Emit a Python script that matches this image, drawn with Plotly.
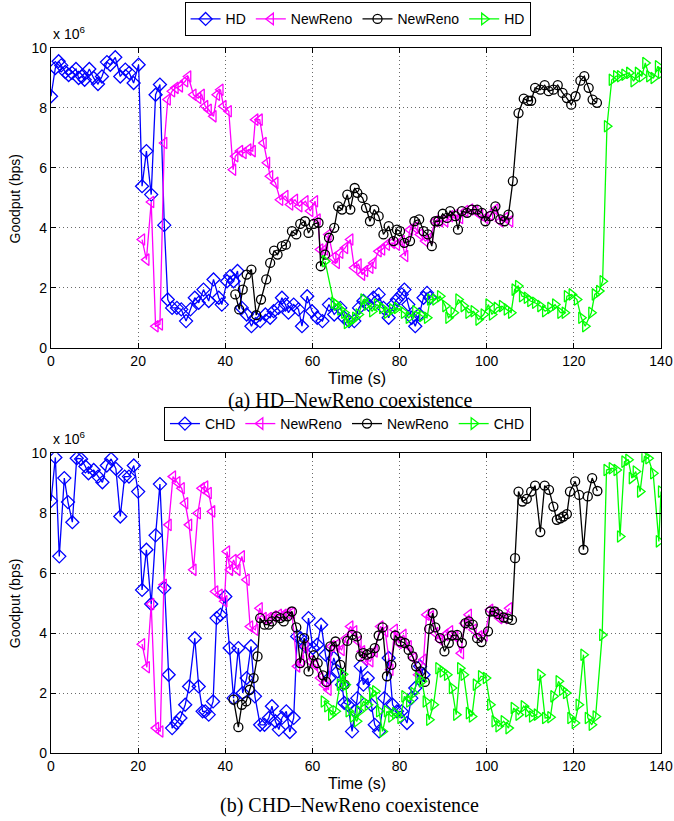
import plotly.graph_objects as go

# ---------------- (a) HD - NewReno ----------------
T_HD_A = [0.0, 0.99, 1.75, 2.36, 3.28, 4.05, 4.81, 5.73, 6.34, 7.11,
          7.72, 8.79, 9.78, 10.78, 11.7, 12.84, 13.61, 14.75, 15.9, 17.05,
          17.97, 18.96, 20.11, 20.9, 21.9, 23.0, 24.0, 25.0, 26.0, 26.8,
          27.8, 28.9, 29.9, 31.0, 32.0, 33.0, 33.9, 35.0, 36.2, 37.3,
          38.5, 39.2, 40.4, 41.1, 41.9, 42.8, 43.8, 44.9, 46.0, 46.9,
          48.0, 49.2, 50.3, 51.1, 52.2, 53.0, 53.8, 54.5, 55.7, 56.8,
          57.6, 58.8, 59.9, 61.1, 62.3, 63.8, 65.0, 66.4, 67.3, 68.4,
          69.6, 70.7, 71.7, 72.9, 74.0, 75.2, 76.3, 77.5, 78.6, 79.4,
          80.5, 81.1, 82.0, 82.8, 83.6, 84.5, 85.5, 86.3, 87.0]
V_HD_A = [8.39, 9.33, 9.56, 9.42, 9.2, 9.1, 9.17, 9.3, 9.0, 9.05,
          8.94, 9.3, 9.0, 8.8, 9.05, 9.53, 9.44, 9.69, 9.05, 9.28,
          9.17, 8.83, 9.44, 5.39, 6.56, 5.11, 8.44, 8.78, 4.09, 1.61,
          1.33, 1.33, 1.28, 0.89, 1.28, 1.67, 1.5, 1.94, 1.56, 2.28,
          1.67, 1.44, 2.22, 2.39, 2.22, 2.56, 1.33, 1.11, 0.72, 1.0,
          0.89, 1.11, 1.0, 1.22, 1.33, 1.67, 1.44, 1.17, 1.44, 1.28,
          0.72, 1.72, 1.22, 1.0, 0.89, 1.44, 1.11, 1.33, 1.0, 0.89,
          0.89, 1.33, 1.56, 1.44, 1.67, 1.78, 1.33, 1.0, 1.44, 1.61,
          1.78, 1.94, 1.44, 1.0, 0.72, 1.11, 1.67, 1.83, 1.67]

T_NR1_A = [20.9, 21.9, 23.0, 24.0, 25.0, 26.0, 26.8, 27.8, 28.6, 29.6,
           30.8, 31.5, 32.7, 33.8, 34.6, 35.4, 36.2, 37.3, 38.1, 38.9,
           39.6, 40.8, 41.8, 42.3, 43.4, 44.2, 45.3, 46.3, 46.9, 47.9,
           48.8, 49.6, 50.3, 51.5, 52.6, 53.8, 54.9, 56.0, 57.0, 58.4,
           59.5, 60.6, 61.2, 61.8, 62.9, 63.7, 64.8, 65.6, 66.4, 67.5,
           68.7, 69.6, 70.6, 71.4, 72.1, 73.3, 74.0, 75.2, 76.0, 77.1,
           78.3, 79.4, 80.5, 81.3, 82.4, 83.6, 84.7, 85.9, 87.0, 88.2,
           89.3, 90.5, 91.6, 92.8, 93.9, 95.1, 96.2, 97.4, 98.5, 99.7,
           100.8, 102.0, 103.1, 104.3, 105.4]
V_NR1_A = [3.61, 2.94, 4.86, 0.72, 0.78, 6.83, 8.28, 8.56, 8.67, 8.72,
           8.89, 9.05, 8.44, 8.33, 8.44, 8.06, 7.94, 7.72, 8.44, 8.61,
           8.06, 7.89, 5.94, 6.39, 6.56, 6.5, 6.61, 6.56, 7.61, 7.61,
           6.83, 6.17, 5.72, 5.5, 4.94, 5.06, 4.78, 4.94, 4.72, 4.89,
           4.56, 4.89, 4.28, 3.28, 3.28, 3.78, 3.0, 2.83, 3.17, 3.33,
           3.61, 2.67, 2.78, 2.44, 2.56, 2.67, 2.83, 3.22, 3.28, 3.44,
           3.5, 3.44, 3.56, 3.06, 3.94, 4.0, 3.78, 3.56, 3.67, 4.22,
           4.22, 4.22, 4.39, 4.44, 4.33, 4.56, 4.61, 4.56, 4.44, 4.33,
           4.44, 4.61, 4.22, 4.33, 4.22]

T_NR2_A = [42.3, 43.2, 44.0, 44.9, 46.0, 47.1, 48.2, 49.4, 50.3, 51.2,
           52.0, 53.0, 53.9, 55.3, 56.3, 57.2, 58.3, 59.1, 60.3, 61.4,
           61.9, 62.9, 63.8, 65.0, 65.9, 66.8, 68.0, 68.7, 69.7, 70.3,
           71.5, 72.3, 73.2, 74.2, 75.2, 76.3, 77.5, 78.6, 79.4, 80.1,
           81.1, 82.4, 83.4, 84.5, 85.5, 86.5, 87.4, 88.2, 88.9, 89.9,
           90.9, 91.6, 92.8, 93.4, 94.3, 95.5, 96.6, 97.8, 98.9, 99.7,
           100.8, 102.0, 103.1, 104.1, 105.0, 106.0, 107.3, 108.5, 109.5, 110.2,
           111.1, 112.3, 113.3, 114.2, 115.3, 116.3, 117.4, 118.4, 119.4, 120.4,
           121.5, 122.4, 123.4, 124.3, 125.3]
V_NR2_A = [1.78, 1.28, 1.94, 2.44, 2.61, 1.09, 1.61, 2.28, 2.83, 3.24,
           3.11, 3.39, 3.44, 3.89, 3.78, 4.13, 4.22, 3.83, 4.13, 4.17,
           2.72, 3.11, 3.67, 4.0, 4.72, 4.61, 5.11, 4.61, 5.33, 5.17,
           5.0, 4.67, 4.22, 4.61, 4.39, 3.78, 4.06, 3.56, 3.94, 3.89,
           3.5, 3.56, 4.22, 4.28, 3.89, 3.78, 3.39, 4.22, 4.22, 4.47,
           4.33, 4.56, 4.39, 3.94, 4.56, 4.5, 4.61, 4.61, 4.5, 4.22,
           4.39, 4.72, 4.28, 4.22, 4.44, 5.56, 7.83, 8.31, 8.24, 8.24,
           8.67, 8.61, 8.76, 8.56, 8.61, 8.76, 8.5, 8.33, 8.11, 8.39,
           8.91, 9.06, 8.67, 8.28, 8.17]

T_HD2_A = [62.9, 64.9, 65.5, 66.4, 67.3, 67.9, 68.8, 69.8, 70.6, 71.7,
           72.5, 73.7, 74.8, 76.0, 77.1, 78.3, 79.4, 81.0, 82.1, 83.6,
           85.2, 86.3, 87.0, 88.2, 89.3, 90.5, 91.2, 92.4, 93.5, 94.7,
           95.8, 97.0, 98.1, 99.3, 100.4, 101.2, 102.3, 103.5, 104.6, 105.6,
           106.4, 107.2, 108.1, 109.2, 110.0, 111.1, 112.3, 113.4, 114.6, 115.7,
           116.9, 117.9, 118.4, 119.5, 120.7, 121.7, 122.6, 124.0, 124.8, 125.8,
           126.6, 127.6, 128.7, 129.7, 130.6, 131.6, 132.7, 133.7, 134.7, 135.6,
           136.4, 137.3, 138.3, 139.3, 140.0]
V_HD2_A = [2.89, 1.5, 1.44, 1.28, 1.17, 0.83, 0.89, 1.0, 1.11, 1.61,
           1.44, 1.22, 1.44, 1.33, 1.17, 1.28, 1.33, 1.17, 1.0, 1.22,
           1.06, 1.0, 1.61, 1.61, 1.72, 1.39, 1.0, 1.17, 1.61, 1.39,
           1.17, 1.22, 0.94, 1.11, 1.44, 1.11, 1.33, 1.39, 1.28, 1.17,
           1.94, 2.06, 1.72, 1.67, 1.56, 1.5, 1.39, 1.22, 1.33, 1.44,
           1.17, 1.17, 1.72, 1.78, 1.61, 1.0, 0.72, 1.17, 1.78, 1.89,
           2.22, 7.39, 8.94, 9.06, 9.06, 9.11, 9.17, 8.89, 9.17, 9.06,
           9.5, 9.06, 9.0, 9.39, 9.17]

# ---------------- (b) CHD - NewReno ----------------
T_CHD_B = [0.0, 1.0, 1.9, 3.05, 3.9, 4.9, 5.9, 6.9, 7.9, 8.6,
           9.8, 10.8, 11.8, 12.8, 13.8, 14.9, 15.9, 16.9, 17.9, 19.0,
           20.0, 20.9, 21.9, 23.0, 24.0, 25.0, 26.0, 27.0, 27.8, 28.8,
           29.7, 30.8, 31.7, 33.0, 33.9, 34.8, 35.4, 36.2, 37.2, 38.0,
           38.9, 40.0, 41.0, 41.9, 43.0, 44.0, 44.9, 45.9, 46.8, 48.0,
           49.0, 50.0, 50.7, 51.5, 52.3, 53.0, 54.0, 54.8, 55.7, 56.5,
           57.3, 58.4, 59.1, 60.1, 61.1, 62.0, 63.0, 63.9, 64.9, 65.8,
           66.8, 67.3, 68.1, 69.1, 69.8, 70.3, 71.1, 71.7, 72.7, 73.5,
           74.3, 75.3, 76.5, 77.5, 78.4, 79.4, 80.5, 81.7, 82.7, 83.6,
           84.7, 85.5]
V_CHD_B = [8.41, 9.86, 6.56, 9.17, 8.37, 7.7, 9.83, 9.81, 9.56, 9.33,
           9.44, 9.22, 9.03, 9.59, 9.81, 9.48, 7.89, 9.22, 9.22, 9.59,
           8.72, 5.44, 6.78, 4.97, 7.26, 8.97, 5.5, 2.61, 0.83, 1.0,
           1.17, 1.61, 2.22, 3.83, 2.22, 1.39, 1.39, 1.28, 1.72, 4.5,
           4.61, 5.22, 3.5, 1.83, 3.5, 2.0, 2.5, 3.56, 1.89, 0.94,
           0.94, 1.17, 1.56, 1.06, 0.78, 1.17, 1.39, 0.7, 1.17, 3.89,
           3.83, 3.56, 4.5, 3.5, 3.61, 4.28, 3.28, 2.5, 3.17, 2.72,
           2.28, 1.67, 1.61, 0.72, 1.39, 1.83, 2.89, 2.28, 2.5, 1.61,
           0.94, 0.72, 1.83, 3.17, 1.61, 1.39, 1.39, 1.0, 1.83, 2.17,
           2.89, 2.61]

T_NR1_B = [20.9, 22.0, 23.0, 24.1, 25.1, 25.9, 27.0, 28.0, 29.0, 30.0,
           30.8, 31.7, 32.7, 33.7, 34.6, 35.4, 36.2, 37.0, 37.7, 38.7,
           39.8, 40.4, 41.1, 41.9, 42.8, 43.8, 44.9, 45.7, 46.9, 47.9,
           48.8, 50.0, 51.1, 52.3, 53.4, 54.3, 55.3, 56.5, 57.4, 58.4,
           59.5, 60.6, 61.8, 62.7, 63.7, 64.4, 65.6, 66.7, 67.7, 68.7,
           69.6, 70.6, 71.4, 72.1, 73.3, 74.3, 75.6, 76.7, 77.9, 78.9,
           79.8, 80.9, 82.1, 83.2, 84.3, 85.5, 86.2, 87.2, 88.2, 89.3,
           90.5, 91.6, 92.8, 94.1, 94.9, 95.9, 97.0, 98.3, 99.5, 100.8,
           102.0, 102.9, 104.1, 105.2]
V_NR1_B = [3.63, 2.86, 4.97, 0.83, 0.72, 5.61, 7.61, 9.22, 9.03, 8.83,
           8.33, 7.61, 6.11, 8.0, 8.83, 8.89, 8.67, 8.06, 5.39, 5.28,
           5.06, 6.72, 6.11, 6.44, 6.11, 6.56, 5.78, 4.22, 4.11, 4.83,
           4.5, 4.5, 4.56, 4.61, 4.61, 4.67, 4.67, 2.89, 3.06, 3.56,
           3.06, 2.94, 2.5, 2.28, 2.11, 3.56, 3.61, 3.44, 3.83, 4.22,
           4.06, 3.72, 3.39, 3.11, 3.06, 3.39, 4.22, 4.06, 2.78, 4.11,
           3.67, 3.94, 3.56, 3.17, 2.61, 3.11, 4.61, 4.56, 4.0, 3.78,
           3.94, 4.06, 3.89, 3.33, 4.33, 4.61, 4.11, 3.89, 3.92, 4.78,
           4.67, 4.5, 4.5, 4.83]

T_NR2_B = [41.9, 43.0, 43.8, 44.8, 45.6, 46.5, 47.4, 48.0, 49.0, 50.0,
           50.7, 51.7, 52.6, 53.4, 54.3, 55.3, 56.3, 57.2, 58.1, 59.1,
           60.3, 61.2, 62.4, 63.2, 64.1, 65.3, 66.4, 67.4, 68.0, 69.1,
           70.2, 71.0, 71.7, 72.5, 73.3, 74.3, 75.2, 76.1, 77.1, 78.1,
           79.0, 80.2, 81.2, 82.1, 83.0, 83.8, 84.8, 85.8, 86.8, 87.6,
           88.2, 89.3, 90.3, 91.3, 92.0, 93.2, 94.3, 95.1, 95.9, 96.8,
           97.8, 98.8, 100.3, 100.8, 101.8, 102.7, 103.9, 104.9, 105.8, 106.5,
           107.3, 108.2, 109.2, 110.2, 111.1, 112.3, 113.3, 114.3, 115.3, 116.1,
           116.9, 117.6, 118.4, 119.1, 120.3, 121.2, 122.2, 123.2, 124.2, 125.4]
V_NR2_B = [1.78, 0.86, 1.61, 1.72, 2.11, 2.5, 3.22, 4.5, 4.28, 4.28,
           4.39, 4.56, 4.5, 4.39, 4.56, 4.72, 4.19, 3.0, 3.83, 2.72,
           3.26, 3.0, 2.59, 2.37, 3.56, 3.72, 2.94, 2.28, 3.74, 3.94,
           3.89, 3.22, 3.33, 3.28, 3.33, 3.5, 3.92, 4.19, 2.56, 2.94,
           3.92, 3.72, 3.67, 3.44, 3.22, 2.89, 2.72, 2.37, 4.14, 4.67,
           4.19, 3.83, 3.39, 3.67, 3.92, 3.94, 3.67, 4.33, 4.39, 4.28,
           3.83, 3.7, 4.06, 4.72, 4.72, 4.63, 4.52, 4.48, 4.44, 6.5,
           8.72, 8.39, 8.48, 8.72, 8.92, 7.37, 8.92, 8.78, 8.22, 7.78,
           7.83, 7.89, 7.97, 8.72, 9.06, 8.61, 6.78, 8.56, 9.17, 8.74]

T_CHD2_B = [62.6, 63.4, 64.3, 65.3, 66.3, 67.0, 67.6, 68.3, 69.3, 70.2,
            70.8, 71.7, 72.7, 73.7, 74.4, 75.3, 76.1, 77.1, 78.1, 79.0,
            80.2, 81.1, 82.2, 83.2, 84.3, 85.1, 86.0, 86.8, 87.8, 88.9,
            89.9, 90.9, 92.0, 93.0, 93.9, 94.7, 95.9, 96.6, 97.5, 98.7,
            99.8, 100.8, 101.8, 102.7, 103.9, 105.0, 106.2, 107.3, 108.5, 109.5,
            110.4, 111.5, 112.3, 113.4, 114.6, 115.3, 116.5, 117.3, 118.2, 119.2,
            120.2, 121.1, 122.2, 123.2, 124.1, 125.0, 126.5, 127.5, 128.7, 129.8,
            130.6, 131.6, 132.5, 133.3, 134.2, 135.2, 136.2, 137.1, 138.2, 139.5,
            140.0]
V_CHD2_B = [1.72, 1.56, 1.28, 1.39, 2.28, 2.63, 2.28, 1.39, 1.22, 1.06,
            1.39, 1.72, 1.61, 2.0, 2.06, 1.39, 0.72, 1.39, 1.22, 1.33,
            1.17, 1.89, 1.72, 2.0, 2.5, 2.39, 1.72, 1.11, 1.61, 2.83,
            2.72, 2.61, 2.17, 1.28, 2.83, 2.61, 1.33, 1.22, 2.28, 2.56,
            2.5, 1.61, 1.06, 0.89, 1.06, 0.83, 1.5, 1.28, 1.56, 1.39,
            1.22, 1.28, 2.61, 1.17, 1.19, 1.89, 2.39, 2.11, 2.0, 1.17,
            1.0, 1.61, 3.28, 1.17, 0.94, 1.22, 3.94, 9.44, 9.5, 9.44,
            7.22, 9.72, 9.78, 9.17, 9.39, 8.72, 9.89, 9.83, 9.33, 7.06,
            8.72]

SCALE = 1e6
X_TICKS = [0, 20, 40, 60, 80, 100, 120, 140]
Y_TICKS = [0, 2, 4, 6, 8, 10]

STYLES = [
    ("#0000ff", "diamond-open", 10),
    ("#ff00ff", "triangle-left-open", 10),
    ("#000000", "circle-open", 9),
    ("#00ff00", "triangle-right-open", 10),
]

fig = go.Figure()

panels = [
    ("x", "y", "legend",
     [("HD", T_HD_A, V_HD_A), ("NewReno", T_NR1_A, V_NR1_A),
      ("NewReno", T_NR2_A, V_NR2_A), ("HD", T_HD2_A, V_HD2_A)]),
    ("x2", "y2", "legend2",
     [("CHD", T_CHD_B, V_CHD_B), ("NewReno", T_NR1_B, V_NR1_B),
      ("NewReno", T_NR2_B, V_NR2_B), ("CHD", T_CHD2_B, V_CHD2_B)]),
]

for xa, ya, lg, series in panels:
    for (name, t, v), (col, sym, sz) in zip(series, STYLES):
        fig.add_trace(go.Scatter(
            x=t, y=[val * SCALE for val in v], name=name,
            mode="lines+markers", xaxis=xa, yaxis=ya, legend=lg,
            line=dict(color=col, width=1.3),
            marker=dict(symbol=sym, size=sz, color=col,
                        line=dict(color=col, width=1.3)),
        ))

axis_common = dict(
    showgrid=True, gridcolor="#6a6a6a", griddash="1px,3px", gridwidth=1,
    showline=True, linecolor="black", linewidth=1.2, mirror="ticks",
    ticks="inside", ticklen=5, tickcolor="black", zeroline=False,
    automargin=False,
    tickfont=dict(family="Liberation Sans, Arial", size=14, color="black"),
)

xa = dict(axis_common, range=[0, 140], tickvals=X_TICKS,
          ticktext=[str(v) for v in X_TICKS])
ya = dict(axis_common, range=[0, 10 * SCALE],
          tickvals=[v * SCALE for v in Y_TICKS],
          ticktext=[str(v) for v in Y_TICKS])

legend_common = dict(
    orientation="h", bgcolor="white", bordercolor="black", borderwidth=1,
    font=dict(family="Liberation Sans, Arial", size=14, color="black"),
    xanchor="center", yanchor="top", itemwidth=30,
)

fig.update_layout(
    width=674, height=821,
    margin=dict(l=50.7, r=13.2, t=47.7, b=67.7, autoexpand=False),
    paper_bgcolor="white", plot_bgcolor="white",
    showlegend=True,
    xaxis=dict(xa, domain=[0, 1], anchor="y"),
    yaxis=dict(ya, domain=[0.5748, 1.0], anchor="x"),
    xaxis2=dict(xa, domain=[0, 1], anchor="y2"),
    yaxis2=dict(ya, domain=[0.0, 0.4252], anchor="x2"),
    legend=dict(legend_common, x=0.5026, y=1.0648),
    legend2=dict(legend_common, x=0.486, y=0.4908),
)

ann_font = dict(family="Liberation Sans, Arial", size=14, color="black")
time_font = dict(family="Liberation Sans, Arial", size=16, color="black")
cap_font = dict(family="Liberation Serif, Times New Roman", size=20, color="black")
anns = [
    dict(text="Time (s)", x=0.502, y=0.5319, font=time_font),
    dict(text="Time (s)", x=0.502, y=-0.0433, font=time_font),
    dict(text="(a) HD\u2013NewReno coexistence", x=0.49, y=0.5007, font=cap_font),
    dict(text="(b) CHD\u2013NewReno coexistence", x=0.49, y=-0.0747, font=cap_font),
    dict(text="Goodput (bps)", x=-0.0585, y=0.787, textangle=-90, font=ann_font),
    dict(text="Goodput (bps)", x=-0.0585, y=0.213, textangle=-90, font=ann_font),
    dict(text="x 10<sup>6</sup>", x=0.0, y=1.0208, xanchor="left", font=ann_font),
    dict(text="x 10<sup>6</sup>", x=0.0, y=0.4469, xanchor="left", font=ann_font),
]
for a in anns:
    a.setdefault("xanchor", "center")
    fig.add_annotation(xref="paper", yref="paper", showarrow=False,
                       yanchor="middle", **a)

# remove the browser's default 8px body margin so the figure fills the window exactly
fig.write_html("out.html",
               config={"displayModeBar": False},
               post_script="document.body.style.margin='0';"
                           "document.documentElement.style.overflow='hidden';")
